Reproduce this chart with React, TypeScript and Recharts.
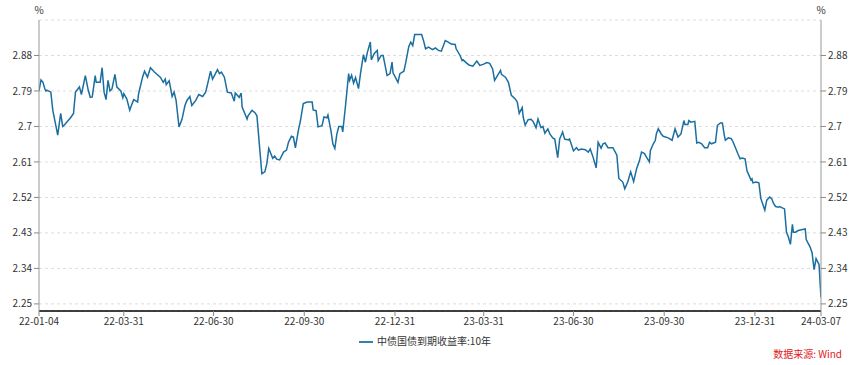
import React from 'react'
import { LineChart, Line, XAxis, YAxis, CartesianGrid, Legend } from 'recharts'

// 中债国债到期收益率:10年, values
const dates = [
  '2022-01-04', '2022-01-06', '2022-01-08', '2022-01-10', '2022-01-11', '2022-01-12', '2022-01-16', '2022-01-18',
  '2022-01-19', '2022-01-23', '2022-01-26', '2022-01-28', '2022-01-29', '2022-02-05', '2022-02-08', '2022-02-10',
  '2022-02-14', '2022-02-16', '2022-02-20', '2022-02-23', '2022-02-25', '2022-02-27', '2022-03-02', '2022-03-03',
  '2022-03-07', '2022-03-09', '2022-03-11', '2022-03-13', '2022-03-15', '2022-03-17', '2022-03-19', '2022-03-22',
  '2022-03-24', '2022-03-28', '2022-03-30', '2022-03-31', '2022-04-03', '2022-04-06', '2022-04-08', '2022-04-10',
  '2022-04-14', '2022-04-15', '2022-04-19', '2022-04-21', '2022-04-24', '2022-04-27', '2022-05-01', '2022-05-07',
  '2022-05-10', '2022-05-12', '2022-05-13', '2022-05-16', '2022-05-19', '2022-05-21', '2022-05-23', '2022-05-26',
  '2022-05-29', '2022-06-01', '2022-06-03', '2022-06-06', '2022-06-08', '2022-06-12', '2022-06-15', '2022-06-19',
  '2022-06-22', '2022-06-24', '2022-06-27', '2022-06-29', '2022-07-04', '2022-07-06', '2022-07-08', '2022-07-11',
  '2022-07-14', '2022-07-18', '2022-07-21', '2022-07-22', '2022-07-26', '2022-07-28', '2022-07-29', '2022-08-03',
  '2022-08-04', '2022-08-08', '2022-08-11', '2022-08-13', '2022-08-18', '2022-08-21', '2022-08-23', '2022-08-25',
  '2022-08-29', '2022-08-31', '2022-09-02', '2022-09-05', '2022-09-09', '2022-09-12', '2022-09-14', '2022-09-17',
  '2022-09-19', '2022-09-21', '2022-09-24', '2022-09-26', '2022-09-29', '2022-10-03', '2022-10-08', '2022-10-09',
  '2022-10-12', '2022-10-14', '2022-10-18', '2022-10-20', '2022-10-23', '2022-10-24', '2022-10-27', '2022-10-29',
  '2022-10-31', '2022-11-02', '2022-11-04', '2022-11-07', '2022-11-08', '2022-11-11', '2022-11-14', '2022-11-15',
  '2022-11-17', '2022-11-19', '2022-11-21', '2022-11-24', '2022-11-26', '2022-11-29', '2022-12-01', '2022-12-03',
  '2022-12-06', '2022-12-07', '2022-12-10', '2022-12-13', '2022-12-14', '2022-12-17', '2022-12-19', '2022-12-23',
  '2022-12-26', '2022-12-28', '2022-12-29', '2023-01-03', '2023-01-05', '2023-01-09', '2023-01-11', '2023-01-14',
  '2023-01-16', '2023-01-18', '2023-01-20', '2023-01-27', '2023-01-29', '2023-01-31', '2023-02-03', '2023-02-05',
  '2023-02-07', '2023-02-10', '2023-02-13', '2023-02-16', '2023-02-20', '2023-02-23', '2023-02-26', '2023-03-02',
  '2023-03-03', '2023-03-07', '2023-03-09', '2023-03-10', '2023-03-14', '2023-03-16', '2023-03-20', '2023-03-24',
  '2023-03-27', '2023-03-31', '2023-04-03', '2023-04-06', '2023-04-09', '2023-04-11', '2023-04-13', '2023-04-17',
  '2023-04-18', '2023-04-22', '2023-04-25', '2023-04-28', '2023-05-02', '2023-05-04', '2023-05-06', '2023-05-09',
  '2023-05-10', '2023-05-12', '2023-05-15', '2023-05-18', '2023-05-20', '2023-05-23', '2023-05-25', '2023-05-28',
  '2023-05-30', '2023-06-01', '2023-06-04', '2023-06-06', '2023-06-09', '2023-06-11', '2023-06-14', '2023-06-16',
  '2023-06-19', '2023-06-21', '2023-06-25', '2023-06-26', '2023-06-30', '2023-07-03', '2023-07-05', '2023-07-08',
  '2023-07-12', '2023-07-15', '2023-07-17', '2023-07-20', '2023-07-23', '2023-07-25', '2023-07-28', '2023-07-30',
  '2023-08-01', '2023-08-04', '2023-08-09', '2023-08-13', '2023-08-15', '2023-08-19', '2023-08-21', '2023-08-24',
  '2023-08-27', '2023-08-30', '2023-09-02', '2023-09-05', '2023-09-07', '2023-09-10', '2023-09-12', '2023-09-15',
  '2023-09-16', '2023-09-19', '2023-09-21', '2023-09-22', '2023-09-24', '2023-09-27', '2023-09-29', '2023-10-04',
  '2023-10-08', '2023-10-11', '2023-10-14', '2023-10-17', '2023-10-20', '2023-10-21', '2023-10-24', '2023-10-25',
  '2023-10-27', '2023-10-31', '2023-11-02', '2023-11-04', '2023-11-07', '2023-11-10', '2023-11-13', '2023-11-15',
  '2023-11-17', '2023-11-21', '2023-11-23', '2023-11-26', '2023-11-28', '2023-11-30', '2023-12-01', '2023-12-04',
  '2023-12-07', '2023-12-09', '2023-12-13', '2023-12-14', '2023-12-16', '2023-12-18', '2023-12-21', '2023-12-23',
  '2023-12-25', '2023-12-27', '2023-12-28', '2023-12-29', '2024-01-01', '2024-01-04', '2024-01-06', '2024-01-10',
  '2024-01-12', '2024-01-15', '2024-01-17', '2024-01-19', '2024-01-21', '2024-01-24', '2024-01-25', '2024-01-30',
  '2024-02-01', '2024-02-03', '2024-02-05', '2024-02-07', '2024-02-08', '2024-02-10', '2024-02-13', '2024-02-16',
  '2024-02-20', '2024-02-21', '2024-02-25', '2024-02-27', '2024-02-29', '2024-03-02', '2024-03-05', '2024-03-07',
]

const yields = [
  2.790, 2.818, 2.812, 2.795, 2.790, 2.792, 2.787, 2.741,
  2.728, 2.678, 2.733, 2.700, 2.702, 2.722, 2.733, 2.787,
  2.800, 2.781, 2.829, 2.791, 2.774, 2.775, 2.829, 2.812,
  2.812, 2.849, 2.787, 2.768, 2.817, 2.790, 2.795, 2.832,
  2.800, 2.790, 2.773, 2.783, 2.770, 2.741, 2.755, 2.768,
  2.762, 2.783, 2.825, 2.840, 2.825, 2.849, 2.838, 2.825,
  2.812, 2.820, 2.806, 2.816, 2.776, 2.787, 2.766, 2.699,
  2.718, 2.753, 2.766, 2.776, 2.753, 2.766, 2.781, 2.776,
  2.787, 2.808, 2.840, 2.820, 2.844, 2.834, 2.838, 2.825,
  2.787, 2.785, 2.764, 2.785, 2.774, 2.785, 2.749, 2.719,
  2.727, 2.741, 2.735, 2.727, 2.580, 2.585, 2.605, 2.644,
  2.619, 2.625, 2.617, 2.615, 2.635, 2.640, 2.660, 2.675,
  2.673, 2.646, 2.690, 2.713, 2.758, 2.762, 2.762, 2.742,
  2.740, 2.699, 2.702, 2.724, 2.722, 2.729, 2.690, 2.656,
  2.644, 2.680, 2.700, 2.700, 2.686, 2.757, 2.834, 2.817,
  2.830, 2.810, 2.824, 2.796, 2.834, 2.882, 2.863, 2.888,
  2.914, 2.869, 2.885, 2.893, 2.867, 2.880, 2.880, 2.829,
  2.834, 2.863, 2.836, 2.812, 2.834, 2.840, 2.863, 2.903,
  2.914, 2.905, 2.933, 2.933, 2.917, 2.897, 2.901, 2.898,
  2.895, 2.899, 2.893, 2.891, 2.918, 2.914, 2.909, 2.908,
  2.897, 2.880, 2.867, 2.869, 2.860, 2.856, 2.853, 2.866,
  2.855, 2.858, 2.862, 2.860, 2.846, 2.817, 2.825, 2.842,
  2.832, 2.825, 2.812, 2.779, 2.770, 2.762, 2.733, 2.748,
  2.724, 2.703, 2.717, 2.718, 2.713, 2.697, 2.719, 2.697,
  2.700, 2.683, 2.694, 2.681, 2.671, 2.668, 2.621, 2.668,
  2.686, 2.668, 2.666, 2.668, 2.638, 2.646, 2.640, 2.643,
  2.641, 2.635, 2.643, 2.621, 2.595, 2.660, 2.645, 2.656,
  2.658, 2.646, 2.646, 2.627, 2.568, 2.559, 2.542, 2.559,
  2.585, 2.560, 2.593, 2.614, 2.635, 2.631, 2.622, 2.610,
  2.639, 2.656, 2.665, 2.681, 2.694, 2.681, 2.675, 2.671,
  2.665, 2.694, 2.673, 2.681, 2.715, 2.705, 2.705, 2.715,
  2.711, 2.713, 2.658, 2.660, 2.656, 2.646, 2.646, 2.660,
  2.656, 2.660, 2.703, 2.709, 2.709, 2.677, 2.665, 2.671,
  2.669, 2.660, 2.635, 2.629, 2.618, 2.620, 2.618, 2.587,
  2.576, 2.564, 2.567, 2.557, 2.559, 2.557, 2.517, 2.488,
  2.513, 2.521, 2.517, 2.504, 2.497, 2.495, 2.497, 2.491,
  2.432, 2.419, 2.401, 2.452, 2.432, 2.432, 2.436, 2.438,
  2.440, 2.413, 2.394, 2.379, 2.337, 2.365, 2.350, 2.266,
]

const yTicks = [2.25, 2.34, 2.43, 2.52, 2.61, 2.7, 2.79, 2.88]
const yDomain = [2.232, 2.97]
const xTickDates = [
  '2022-01-04', '2022-03-31', '2022-06-30', '2022-09-30', '2022-12-31',
  '2023-03-31', '2023-06-30', '2023-09-30', '2023-12-31', '2024-03-07',
]

const seriesName = '中债国债到期收益率:10年'
const sourceText = '数据来源: Wind'

const toTime = (d: string) => Date.parse(d + 'T00:00:00Z')
const data = dates.map((d, i) => ({ t: toTime(d), v: yields[i] }))
const xTicks = xTickDates.map(toTime)

const fmtDate = (t: number) => {
  const d = new Date(t)
  const p = (n: number) => String(n).padStart(2, '0')
  return `${String(d.getUTCFullYear()).slice(2)}-${p(d.getUTCMonth() + 1)}-${p(d.getUTCDate())}`
}

const FONT = "'Noto Sans CJK SC', 'Noto Sans', sans-serif"
const tickStyle = { fontSize: 10, fill: '#333', fontFamily: FONT }

const pctLabel = (side: 'left' | 'right') => (props: any) => {
  const vb = props.viewBox || {}
  const x = side === 'left' ? vb.x + vb.width : vb.x
  return (
    <text x={x} y={vb.y - 6} textAnchor="middle" fontSize={10} fill="#333" fontFamily={FONT}>
      %
    </text>
  )
}

export default function App() {
  return (
    <div style={{ position: 'relative', width: 860, height: 365, background: '#fff', fontFamily: FONT }}>
      <style>{'body{margin:0}'}</style>
      <LineChart width={860} height={365} data={data} margin={{ top: 20, right: 0, bottom: 24, left: 0 }}>
        <CartesianGrid vertical={false} yAxisId="left" stroke="#dddddd" strokeDasharray="3 3" />
        <XAxis
          dataKey="t"
          type="number"
          domain={[xTicks[0], xTicks[xTicks.length - 1]]}
          ticks={xTicks}
          interval={0}
          tickFormatter={fmtDate}
          height={30}
          tickSize={5}
          tick={tickStyle}
          axisLine={{ stroke: '#000', strokeWidth: 1.5 }}
          tickLine={{ stroke: '#888' }}
          allowDataOverflow
        />
        <YAxis
          yAxisId="left"
          width={39}
          domain={yDomain}
          ticks={yTicks}
          interval={0}
          tickSize={5}
          tickMargin={2}
          tick={tickStyle}
          axisLine={{ stroke: '#999' }}
          tickLine={{ stroke: '#888' }}
          allowDataOverflow
          label={{ content: pctLabel('left') }}
        />
        <YAxis
          yAxisId="right"
          orientation="right"
          width={39}
          domain={yDomain}
          ticks={yTicks}
          interval={0}
          tickSize={5}
          tickMargin={2}
          tick={tickStyle}
          axisLine={{ stroke: '#999' }}
          tickLine={{ stroke: '#888' }}
          allowDataOverflow
          label={{ content: pctLabel('right') }}
        />
        <Legend
          verticalAlign="middle"
          layout="horizontal"
          align="center"
          iconType="plainline"
          iconSize={14}
          wrapperStyle={{ top: 333, left: 0, width: 860, fontSize: 10, fontFamily: FONT }}
          formatter={(value: any) => <span style={{ color: '#333' }}>{value}</span>}
        />
        <Line
          yAxisId="left"
          type="linear"
          dataKey="v"
          name={seriesName}
          stroke="#1b6ea0"
          strokeWidth={1.5}
          dot={false}
          activeDot={false}
          isAnimationActive={false}
        />
      </LineChart>
      <div style={{ position: 'absolute', right: 18, top: 346, fontSize: 10, color: '#e02020', fontFamily: FONT }}>
        {sourceText}
      </div>
    </div>
  )
}
